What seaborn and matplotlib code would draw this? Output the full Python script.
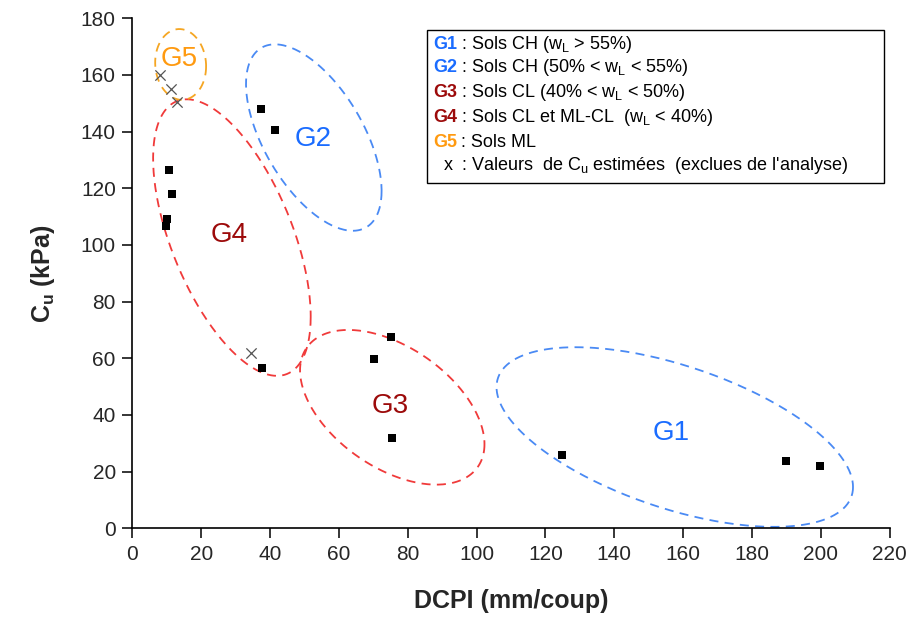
import numpy as np
import pandas as pd
import matplotlib
matplotlib.use("Agg")
import matplotlib.pyplot as plt
from matplotlib.patches import Rectangle
import seaborn as sns

# measured points (DCPI in mm/coup, Cu in kPa)
dcpi = [37.3, 41.3, 10.7, 11.5, 9.9, 9.7, 37.6, 75.1, 70.2, 75.4, 124.8, 189.9, 199.9]
cu = [147.9, 140.6, 126.5, 117.9, 109.2, 106.6, 56.7, 67.4, 59.7, 31.9, 25.9, 23.8, 22.1]

# estimated Cu values (excluded)
dcpi_est = [8.0, 11.1, 12.8, 34.4]
cu_est = [160.0, 155.1, 150.4, 62.0]

# group ellipses: centre, half extent x/y, phase (deg), colour
groups = ["G1", "G2", "G3", "G4", "G5"]
ell_cx = [157.6, 52.7, 75.5, 28.9, 14.0]
ell_cy = [32.2, 137.9, 42.7, 102.6, 163.7]
ell_ax = [51.8, 19.7, 26.8, 22.9, 7.4]
ell_ay = [31.7, 32.9, 27.3, 48.8, 12.5]
ell_phi = [123.8, 125.0, 118.5, 124.9, 93.0]
ell_col = ["#4a8af4", "#4a8af4", "#f03a3a", "#f03a3a", "#f5a623"]
lab_x = [156.5, 52.5, 75.0, 28.0, 13.5]
lab_y = [33.5, 137.5, 43.0, 103.5, 165.5]
lab_col = ["#1a6cff", "#1a6cff", "#9c0a0a", "#9c0a0a", "#ff9a10"]

legend_txt = [r": Sols CH (w$_\mathrm{L}$ > 55%)",
              r": Sols CH (50% < w$_\mathrm{L}$ < 55%)",
              r": Sols CL (40% < w$_\mathrm{L}$ < 50%)",
              r": Sols CL et ML-CL  (w$_\mathrm{L}$ < 40%)",
              ": Sols ML",
              r": Valeurs  de C$_\mathrm{u}$ estimées  (exclues de l'analyse)"]

sns.set_style("ticks")
plt.rcParams["font.family"] = ["Liberation Sans", "DejaVu Sans"]
plt.rcParams["mathtext.fontset"] = "custom"
plt.rcParams["mathtext.rm"] = "Liberation Sans"
plt.rcParams["mathtext.it"] = "Liberation Sans:italic"
plt.rcParams["mathtext.bf"] = "Liberation Sans:bold"

fig, ax = plt.subplots(figsize=(9.11, 6.28), dpi=100)
fig.subplots_adjust(left=0.1454, right=0.9764, bottom=0.1588, top=0.9709)

df = pd.DataFrame({"DCPI": dcpi, "Cu": cu})
df_est = pd.DataFrame({"DCPI": dcpi_est, "Cu": cu_est})

t = np.linspace(0, 2 * np.pi, 300)
for i in range(len(groups)):
    ph = np.radians(ell_phi[i])
    ex = ell_cx[i] + ell_ax[i] * np.cos(t)
    ey = ell_cy[i] + ell_ay[i] * np.cos(t + ph)
    ax.plot(ex, ey, color=ell_col[i], lw=1.3, ls=(0, (5, 3.5)), zorder=2)
    ax.text(lab_x[i], lab_y[i], groups[i], color=lab_col[i], fontsize=20,
            ha="center", va="center", zorder=3)

sns.scatterplot(data=df, x="DCPI", y="Cu", marker="s", color="black",
                s=34, edgecolor="black", linewidth=0, ax=ax, zorder=4)
sns.scatterplot(data=df_est, x="DCPI", y="Cu", marker="x", color="#555555",
                s=55, linewidth=0.9, ax=ax, zorder=4)

ax.set_xlim(0, 220)
ax.set_ylim(0, 180)
ax.set_xticks(np.arange(0, 221, 20))
ax.set_yticks(np.arange(0, 181, 20))
ax.tick_params(axis="both", direction="out", length=7, width=1.1,
               labelsize=15, color="black", pad=5)
sns.despine(ax=ax)
for sp in ["left", "bottom"]:
    ax.spines[sp].set_linewidth(1.2)
    ax.spines[sp].set_color("black")

ax.set_xlabel("DCPI (mm/coup)", fontsize=18, fontweight="bold", labelpad=18)
ax.set_ylabel(r"C$_\mathbf{u}$ (kPa)", fontsize=18, fontweight="bold", labelpad=17)

# legend box
ax.add_patch(Rectangle((0.389, 0.677), 0.604, 0.300, transform=ax.transAxes,
                       facecolor="white", edgecolor="black", lw=1.0, zorder=5))
leg_y = [0.948, 0.903, 0.854, 0.805, 0.757, 0.712]
for i in range(6):
    if i < 5:
        ax.text(0.397, leg_y[i], groups[i], color=lab_col[i], fontsize=13,
                fontweight="bold", ha="left", va="center",
                transform=ax.transAxes, zorder=6)
    else:
        ax.text(0.411, leg_y[i], "x", color="black", fontsize=13,
                ha="left", va="center", transform=ax.transAxes, zorder=6)
    ax.text(0.434, leg_y[i], legend_txt[i], color="black", fontsize=13,
            ha="left", va="center", transform=ax.transAxes, zorder=6)

fig.savefig("out.png", dpi=100)
